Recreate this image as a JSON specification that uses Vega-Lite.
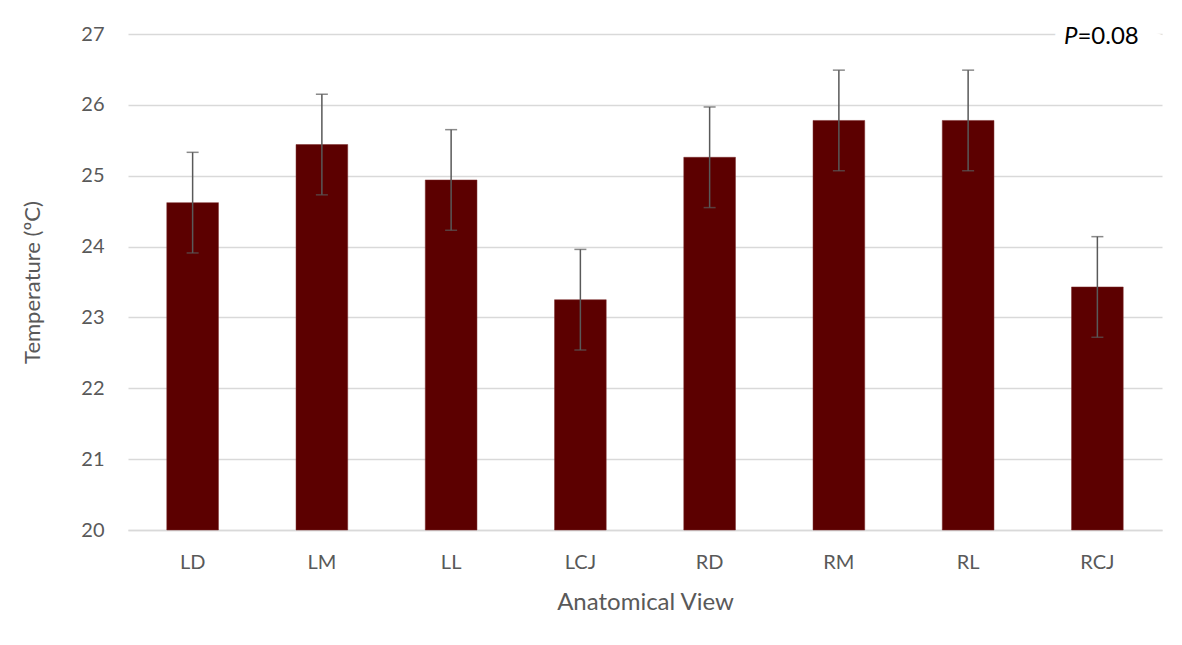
{
  "$schema": "https://vega.github.io/schema/vega-lite/v6.json",
  "autosize": "none",
  "width": 1034,
  "height": 496,
  "padding": {"left": 128, "top": 34, "right": 20, "bottom": 115},
  "background": "white",
  "config": {
    "font": "Lato",
    "view": {"stroke": null},
    "axis": {"labelFont": "Lato", "titleFont": "Lato", "labelColor": "#595959", "titleColor": "#595959", "titleFontWeight": "normal", "labelFontSize": 20, "ticks": false},
    "axisY": {"labelPadding": 24, "titlePadding": 36, "titleFontSize": 22, "domain": false, "grid": true, "gridColor": "#d9d9d9", "gridWidth": 1.5, "format": "d"},
    "axisX": {"labelPadding": 22, "titlePadding": 18, "titleFontSize": 24, "domainColor": "#d9d9d9", "domainWidth": 1.5, "grid": false, "labelAngle": 0}
  },
  "data": {
    "values": [
      {"view": "LD", "temp": 24.62, "low": 23.91, "high": 25.33},
      {"view": "LM", "temp": 25.44, "low": 24.73, "high": 26.15},
      {"view": "LL", "temp": 24.94, "low": 24.23, "high": 25.65},
      {"view": "LCJ", "temp": 23.25, "low": 22.54, "high": 23.96},
      {"view": "RD", "temp": 25.26, "low": 24.55, "high": 25.97},
      {"view": "RM", "temp": 25.78, "low": 25.07, "high": 26.49},
      {"view": "RL", "temp": 25.78, "low": 25.07, "high": 26.49},
      {"view": "RCJ", "temp": 23.43, "low": 22.72, "high": 24.14}
    ]
  },
  "encoding": {
    "x": {
      "field": "view", "type": "nominal", "sort": null,
      "scale": {"paddingInner": 0.6, "paddingOuter": 0.3},
      "axis": {"title": "Anatomical View"}
    }
  },
  "layer": [
    {
      "mark": {"type": "bar", "color": "#5c0000", "stroke": "#7a2a2a", "strokeWidth": 0.5},
      "encoding": {
        "y": {
          "field": "temp", "type": "quantitative",
          "scale": {"domain": [20, 27], "zero": false, "nice": false},
          "axis": {"title": "Temperature (ºC)", "values": [20, 21, 22, 23, 24, 25, 26, 27]}
        },
        "y2": {"datum": 20}
      }
    },
    {
      "mark": {"type": "rule", "color": "#595959", "strokeWidth": 1.5},
      "encoding": {
        "y": {"field": "low", "type": "quantitative", "axis": {"title": "Temperature (ºC)", "values": [20, 21, 22, 23, 24, 25, 26, 27]}},
        "y2": {"field": "high"}
      }
    },
    {
      "mark": {"type": "tick", "color": "#595959", "thickness": 1.5, "size": 12},
      "encoding": {"y": {"field": "low", "type": "quantitative", "axis": {"title": "Temperature (ºC)", "values": [20, 21, 22, 23, 24, 25, 26, 27]}}}
    },
    {
      "mark": {"type": "tick", "color": "#595959", "thickness": 1.5, "size": 12},
      "encoding": {"y": {"field": "high", "type": "quantitative", "axis": {"title": "Temperature (ºC)", "values": [20, 21, 22, 23, 24, 25, 26, 27]}}}
    },
    {
      "data": {"values": [{"view": "RCJ", "y": 27, "p": "P", "rest": "=0.08"}]},
      "layer": [
        {
          "mark": {"type": "text", "align": "right", "baseline": "middle", "fontSize": 24, "fontStyle": "italic", "color": "#ffffff", "stroke": "#ffffff", "strokeWidth": 22, "dx": -20, "dy": 3},
          "encoding": {"y": {"field": "y", "type": "quantitative", "axis": {"title": "Temperature (ºC)", "values": [20, 21, 22, 23, 24, 25, 26, 27]}}, "text": {"field": "p"}}
        },
        {
          "mark": {"type": "text", "align": "left", "baseline": "middle", "fontSize": 24, "color": "#ffffff", "stroke": "#ffffff", "strokeWidth": 22, "dx": -20, "dy": 3},
          "encoding": {"y": {"field": "y", "type": "quantitative", "axis": {"title": "Temperature (ºC)", "values": [20, 21, 22, 23, 24, 25, 26, 27]}}, "text": {"field": "rest"}}
        },
        {
          "mark": {"type": "text", "align": "right", "baseline": "middle", "fontSize": 24, "fontStyle": "italic", "color": "#000000", "dx": -20, "dy": 3},
          "encoding": {"y": {"field": "y", "type": "quantitative", "axis": {"title": "Temperature (ºC)", "values": [20, 21, 22, 23, 24, 25, 26, 27]}}, "text": {"field": "p"}}
        },
        {
          "mark": {"type": "text", "align": "left", "baseline": "middle", "fontSize": 24, "color": "#000000", "dx": -20, "dy": 3},
          "encoding": {"y": {"field": "y", "type": "quantitative", "axis": {"title": "Temperature (ºC)", "values": [20, 21, 22, 23, 24, 25, 26, 27]}}, "text": {"field": "rest"}}
        }
      ]
    }
  ]
}
